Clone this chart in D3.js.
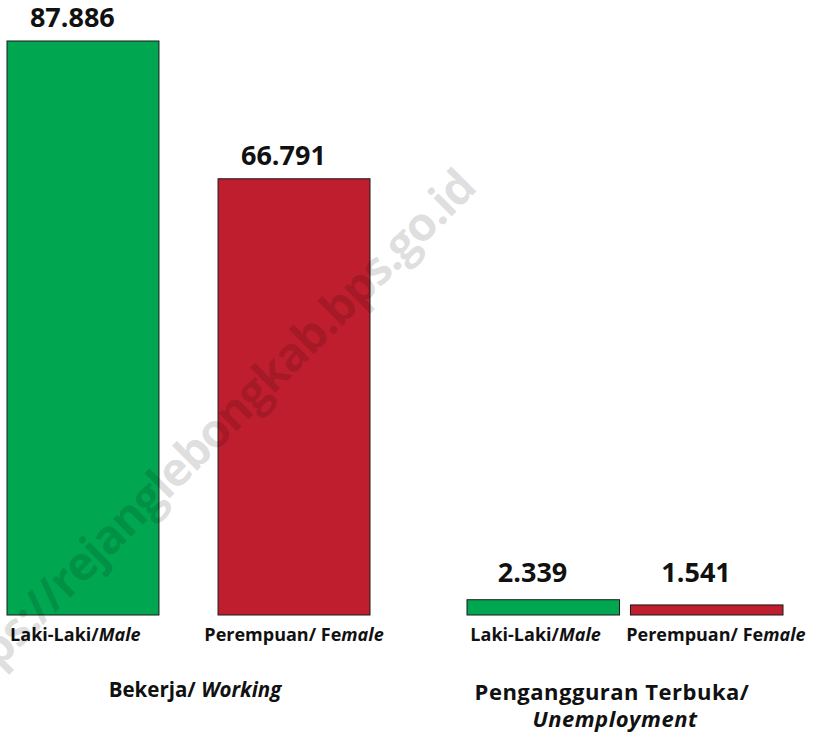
<!DOCTYPE html>
<html>
<head>
<meta charset="utf-8">
<script src="https://cdn.jsdelivr.net/npm/d3@7"></script>
<style>
  body { margin: 0; background: #fff; }
  svg { display: block; font-family: "Open Sans", "Noto Sans", sans-serif; }
</style>
</head>
<body>
<svg></svg>
<script>
const width = 823;
const height = 738;

// data
const groups = ['Bekerja', 'Pengangguran'];
const groupTitles = [['Bekerja/ ', 'Working'], ['Pengangguran Terbuka/', 'Unemployment']];
const sexes = ['Laki-Laki', 'Perempuan'];
const sexLabels = [['Laki-Laki/', 'Male'], ['Perempuan/ Fe', 'male']];
const working = [87.886, 66.791];
const unemployed = [2.339, 1.541];
const valueLabels = ['87.886', '66.791', '2.339', '1.541'];

const colors = ['#00a650', '#be1e2d'];

const svg = d3.select('svg')
    .attr('width', width)
    .attr('height', height);

const baseline = 615;
const y = d3.scaleLinear().domain([0, d3.max(working)]).range([baseline, 41]);

// each group gets its own span, inner gap differs
const groupRange = {
    Bekerja: [7, 370],
    Pengangguran: [467, 783]
};
const innerPad = { Bekerja: 0.28, Pengangguran: 0.067 };

const rows = [];
groups.forEach((g, gi) => {
    const vals = gi === 0 ? working : unemployed;
    const xs = d3.scaleBand().domain(sexes).range(groupRange[g]).paddingInner(innerPad[g]);
    sexes.forEach((s, si) => {
        rows.push({ group: g, gi, sex: s, si, value: vals[si], x: xs(s), w: xs.bandwidth(), label: valueLabels[gi * 2 + si] });
    });
});

const g = svg.append('g');

g.selectAll('rect')
    .data(rows)
    .enter()
    .append('rect')
    .attr('x', d => d.x)
    .attr('y', d => y(d.value))
    .attr('width', d => d.w)
    .attr('height', d => baseline - y(d.value))
    .attr('fill', d => colors[d.si])
    .attr('stroke', '#1a1a1a')
    .attr('stroke-width', 1);

// value labels (small bars share one line)
const smallTop = y(d3.max(unemployed));
g.selectAll('.val')
    .data(rows)
    .enter()
    .append('text')
    .attr('class', 'val')
    .attr('x', d => d.x + d.w * 0.43)
    .attr('y', d => d.gi === 0 ? y(d.value) - 14 : smallTop - 18)
    .attr('text-anchor', 'middle')
    .attr('font-size', 27)
    .attr('font-weight', 700)
    .attr('fill', '#111')
    .text(d => d.label);

// category labels
const cat = g.selectAll('.cat')
    .data(rows)
    .enter()
    .append('text')
    .attr('class', 'cat')
    .attr('x', d => d.x + d.w * (d.si === 0 ? 0.45 : (d.gi === 0 ? 0.5 : 0.56)))
    .attr('y', 641)
    .attr('text-anchor', 'middle')
    .attr('font-size', 18)
    .attr('font-weight', 700)
    .attr('fill', '#111');
cat.append('tspan').text(d => sexLabels[d.si][0]);
cat.append('tspan').attr('font-style', 'italic').text(d => sexLabels[d.si][1]);

// group titles
const t1 = svg.append('text')
    .attr('x', 195)
    .attr('y', 697)
    .attr('text-anchor', 'middle')
    .attr('font-size', 20.5)
    .attr('font-weight', 700)
    .attr('fill', '#111');
t1.append('tspan').text(groupTitles[0][0]);
t1.append('tspan').attr('font-style', 'italic').text(groupTitles[0][1]);

svg.append('text')
    .attr('x', 612)
    .attr('y', 700)
    .attr('text-anchor', 'middle')
    .attr('font-size', 22)
    .attr('letter-spacing', 0.5)
    .attr('font-weight', 700)
    .attr('fill', '#111')
    .text(groupTitles[1][0]);
svg.append('text')
    .attr('x', 615)
    .attr('y', 727)
    .attr('text-anchor', 'middle')
    .attr('font-size', 22)
    .attr('letter-spacing', 0.5)
    .attr('font-weight', 700)
    .attr('font-style', 'italic')
    .attr('fill', '#111')
    .text(groupTitles[1][1]);

// watermark, drawn last so it tints the bars
svg.append('text')
    .attr('transform', 'translate(478,190) rotate(-45)')
    .attr('text-anchor', 'end')
    .attr('font-size', 47)
    .attr('font-weight', 700)
    .attr('letter-spacing', -1.5)
    .attr('fill', '#000')
    .attr('fill-opacity', 0.13)
    .text('https://rejanglebongkab.bps.go.id');
</script>
</body>
</html>
